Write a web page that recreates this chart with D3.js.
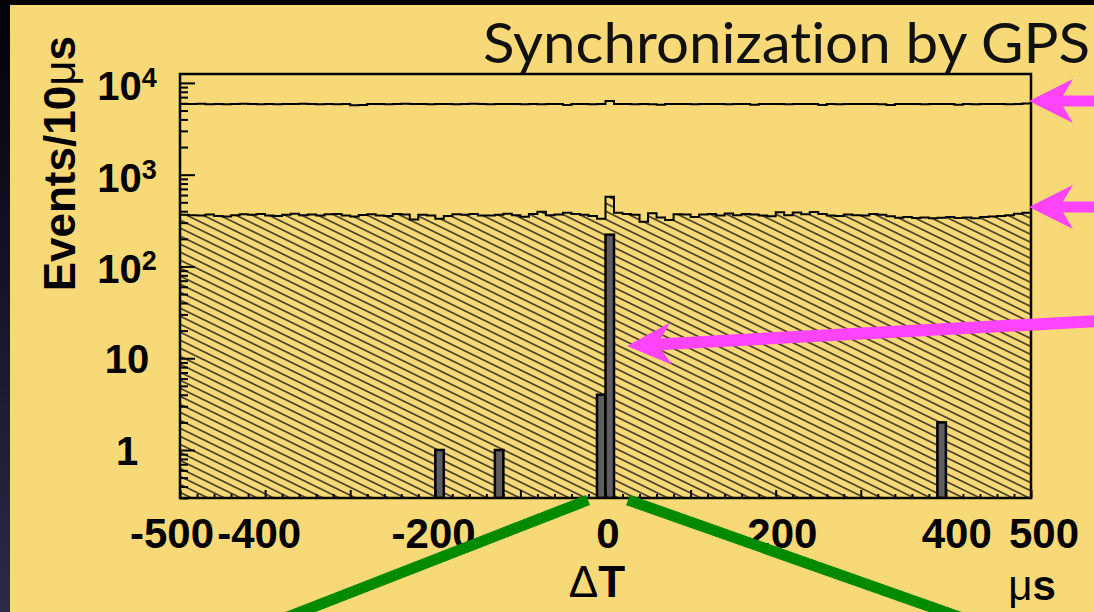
<!DOCTYPE html>
<html>
<head>
<meta charset="utf-8">
<script src="https://cdn.jsdelivr.net/npm/d3@7"></script>
<style>
  body { margin: 0; background: #000; }
  svg { display: block; }
</style>
</head>
<body>
<div class="chart"></div>
<script>
// bins of 10 us from -500 to 500
var binEdges = d3.range(-500, 500, 10);

// all coincidences (open histogram)
var allCounts = [
  5900, 5880, 5920, 5870, 5900, 5860, 5890, 5910, 5880, 5850,
  5890, 5870, 5900, 5880, 5920, 5890, 5870, 5900, 5860, 5880,
  5700, 5750, 5880, 5900, 5870, 5890, 5910, 5880, 5900, 5870,
  5890, 5880, 5860, 5900, 5920, 5880, 5870, 5900, 5890, 5880,
  5860, 5900, 5870, 5890, 5880, 5760, 5900, 5880, 5870, 5900,
  6350, 5880, 5890, 5860, 5900, 5870, 5780, 5890, 5900, 5880,
  5870, 5900, 5880, 5890, 5860, 5900, 5880, 5770, 5890, 5900,
  5880, 5870, 5900, 5890, 5880, 5760, 5900, 5870, 5890, 5880,
  5900, 5880, 5870, 5760, 5890, 5900, 5880, 5870, 5900, 5890,
  5880, 5780, 5900, 5870, 5890, 5880, 5900, 5870, 5880, 5950
];

// after cuts (hatched histogram)
var cutCounts = [
  365, 362, 360, 368, 355, 350, 362, 370, 365, 372,
  360, 355, 365, 375, 362, 368, 358, 370, 372, 360,
  350, 364, 370, 360, 355, 372, 368, 325, 365, 360,
  330, 355, 370, 365, 372, 360, 358, 366, 375, 362,
  348, 372, 395, 362, 368, 385, 372, 366, 355, 330,
  575, 385, 372, 366, 307, 380, 342, 320, 370, 368,
  345, 368, 372, 360, 378, 362, 374, 368, 360, 352,
  390, 362, 388, 370, 392, 372, 360, 355, 368, 362,
  358, 372, 365, 352, 340, 345, 338, 342, 336, 340,
  345, 338, 342, 336, 345, 350, 355, 362, 375, 385
];

// signal candidates (grey bars)
var signalBins = [-200, -130, -10, 0, 390];
var signalCounts = [1, 1, 4, 222, 2];

var yMajor = [1, 10, 100, 1000, 10000];
var yLabelBase = ["1", "10", "10", "10", "10"];
var yLabelExp = ["", "", "2", "3", "4"];
var xTickLabels = [-500, -400, -200, 0, 200, 400, 500];

var w = 1094, h = 612;
var plotL = 180, plotR = 1031, plotT = 74, plotB = 498;

var x = d3.scaleLinear().domain([-500, 500]).range([plotL, plotR]);
var y = d3.scaleLog().domain([0.3, 1.25e4]).range([plotB, plotT]);
// tick labels in the original sit slightly spread out
var xLab = d3.scaleLinear().domain([-500, 500]).range([172, 1044]);

var svg = d3.select(".chart").append("svg")
  .attr("width", w).attr("height", h);

var defs = svg.append("defs");
var grad = defs.append("linearGradient").attr("id", "edge")
  .attr("x1", 0).attr("y1", 0).attr("x2", 0).attr("y2", 1);
grad.append("stop").attr("offset", "0%").attr("stop-color", "#020208");
grad.append("stop").attr("offset", "100%").attr("stop-color", "#2a2a48");

var hatch = defs.append("pattern").attr("id", "hatch")
  .attr("patternUnits", "userSpaceOnUse")
  .attr("width", 12).attr("height", 7.2)
  .attr("patternTransform", "rotate(26)");
hatch.append("line")
  .attr("x1", 0).attr("y1", 3.6).attr("x2", 12).attr("y2", 3.6)
  .attr("stroke", "#111").attr("stroke-width", 1.3);

defs.append("clipPath").attr("id", "plot")
  .append("rect").attr("x", plotL).attr("y", plotT)
  .attr("width", plotR - plotL).attr("height", plotB - plotT);

// slide background
svg.append("rect").attr("width", w).attr("height", h).attr("fill", "#f8d977");
svg.append("rect").attr("width", w).attr("height", 5).attr("fill", "#000");
svg.append("rect").attr("width", 10).attr("height", h).attr("fill", "url(#edge)");

// title
svg.append("text")
  .attr("x", 483).attr("y", 63)
  .attr("textLength", 607).attr("lengthAdjust", "spacingAndGlyphs")
  .style("font-family", "Lato, 'Open Sans', sans-serif")
  .style("font-size", "56px")
  .style("font-variant-ligatures", "none")
  .attr("fill", "#111")
  .text("Synchronization by GPS");

var plot = svg.append("g").attr("clip-path", "url(#plot)");

function stepPoints(counts) {
  var pts = binEdges.map(function(e, i) { return [e, counts[i]]; });
  pts.push([500, counts[counts.length - 1]]);
  return pts;
}

var area = d3.area()
  .curve(d3.curveStepAfter)
  .x(function(d) { return x(d[0]); })
  .y0(plotB)
  .y1(function(d) { return y(d[1]); });

var line = d3.line()
  .curve(d3.curveStepAfter)
  .x(function(d) { return x(d[0]); })
  .y(function(d) { return y(d[1]); });

// hatched histogram
plot.append("path")
  .datum(stepPoints(cutCounts))
  .attr("d", area)
  .attr("fill", "url(#hatch)");
plot.append("path")
  .datum(stepPoints(cutCounts))
  .attr("d", line)
  .attr("fill", "none")
  .attr("stroke", "#000").attr("stroke-width", 2);

// open histogram
plot.append("path")
  .datum(stepPoints(allCounts))
  .attr("d", line)
  .attr("fill", "none")
  .attr("stroke", "#000").attr("stroke-width", 2);

// grey signal bars
plot.selectAll("rect.sig")
  .data(signalBins)
  .enter()
  .append("rect")
  .attr("class", "sig")
  .attr("x", function(d) { return x(d); })
  .attr("width", function(d) { return x(d + 10) - x(d); })
  .attr("y", function(d, i) { return y(signalCounts[i]); })
  .attr("height", function(d, i) { return plotB - y(signalCounts[i]); })
  .attr("fill", "#5e5e5e")
  .attr("stroke", "#000").attr("stroke-width", 2.5);

// y axis ticks (inward)
var yMinor = [];
[0.1, 1, 10, 100, 1000].forEach(function(dec) {
  d3.range(2, 10).forEach(function(k) {
    var v = dec * k;
    if (v >= 0.3 && v <= 1.25e4) yMinor.push(v);
  });
});

var yAxisMajor = svg.append("g")
  .attr("transform", "translate(" + plotL + ",0)")
  .call(d3.axisRight(y).tickValues(yMajor).tickSize(15).tickSizeOuter(0).tickFormat(""));
var yAxisMinor = svg.append("g")
  .attr("transform", "translate(" + plotL + ",0)")
  .call(d3.axisRight(y).tickValues(yMinor).tickSize(8).tickSizeOuter(0).tickFormat(""));

// x axis ticks (inward)
var xMajor = d3.range(-500, 501, 100);
var xMinor = d3.range(-500, 501, 20).filter(function(v) { return v % 100 !== 0; });
var xAxisMajor = svg.append("g")
  .attr("transform", "translate(0," + plotB + ")")
  .call(d3.axisTop(x).tickValues(xMajor).tickSize(8).tickSizeOuter(0).tickFormat(""));
var xAxisMinor = svg.append("g")
  .attr("transform", "translate(0," + plotB + ")")
  .call(d3.axisTop(x).tickValues(xMinor).tickSize(4).tickSizeOuter(0).tickFormat(""));

[yAxisMajor, yAxisMinor, xAxisMajor, xAxisMinor].forEach(function(g) {
  g.select(".domain").remove();
  g.selectAll("line").attr("stroke", "#000").attr("stroke-width", 2);
});

// frame
svg.append("rect")
  .attr("x", plotL).attr("y", plotT)
  .attr("width", plotR - plotL).attr("height", plotB - plotT)
  .attr("fill", "none").attr("stroke", "#000").attr("stroke-width", 2.5);

var labelFont = "'Liberation Sans', Arial, Helvetica, sans-serif";

// y labels
var yLabels = svg.selectAll("text.ylab")
  .data(yMajor)
  .enter()
  .append("text")
  .attr("class", "ylab")
  .attr("x", 127)
  .attr("y", function(d, i) { return y(d) + (yLabelExp[i] ? 17 : 15); })
  .attr("text-anchor", "middle")
  .style("font-family", labelFont)
  .style("font-weight", "bold")
  .style("font-size", "40px")
  .attr("fill", "#000");
yLabels.append("tspan").text(function(d, i) { return yLabelBase[i]; });
yLabels.append("tspan")
  .attr("dy", -13)
  .style("font-size", "27px")
  .text(function(d, i) { return yLabelExp[i]; });

// x labels
svg.selectAll("text.xlab")
  .data(xTickLabels)
  .enter()
  .append("text")
  .attr("class", "xlab")
  .attr("x", function(d) { return xLab(d); })
  .attr("y", 548)
  .attr("text-anchor", "middle")
  .style("font-family", labelFont)
  .style("font-weight", "bold")
  .style("font-size", "42px")
  .attr("fill", "#000")
  .text(function(d) { return d; });

// axis titles
svg.append("text")
  .attr("transform", "translate(75,36) rotate(-90)")
  .attr("text-anchor", "end")
  .style("font-family", labelFont)
  .style("font-weight", "bold")
  .style("font-size", "44px")
  .attr("fill", "#000")
  .html("Events/10<tspan style='font-weight:normal'>μ</tspan>s");

svg.append("text")
  .attr("x", 597).attr("y", 597)
  .attr("text-anchor", "middle")
  .style("font-family", labelFont)
  .style("font-weight", "bold")
  .style("font-size", "44px")
  .attr("fill", "#000")
  .html("<tspan style='font-weight:normal'>Δ</tspan>T");

svg.append("text")
  .attr("x", 1032).attr("y", 600)
  .attr("text-anchor", "middle")
  .style("font-family", labelFont)
  .style("font-weight", "bold")
  .style("font-size", "42px")
  .attr("fill", "#000")
  .html("<tspan style='font-weight:normal'>μ</tspan>s");

// magenta arrows
var magenta = "#ff44ff";
function arrow(tip, tail, headLen, headHalf, shaft) {
  var dx = tail[0] - tip[0], dy = tail[1] - tip[1];
  var len = Math.sqrt(dx * dx + dy * dy);
  var ux = dx / len, uy = dy / len, px = -uy, py = ux;
  var back = [tip[0] + ux * headLen, tip[1] + uy * headLen];
  var notch = [tip[0] + ux * headLen * 0.7, tip[1] + uy * headLen * 0.7];
  svg.append("line")
    .attr("x1", notch[0]).attr("y1", notch[1])
    .attr("x2", tail[0]).attr("y2", tail[1])
    .attr("stroke", magenta).attr("stroke-width", shaft);
  svg.append("path")
    .attr("d", "M" + tip + "L" + [back[0] + px * headHalf, back[1] + py * headHalf] +
      "L" + notch + "L" + [back[0] - px * headHalf, back[1] - py * headHalf] + "Z")
    .attr("fill", magenta);
}
arrow([1029, 101], [1100, 101], 44, 22, 11);
arrow([1029, 207], [1100, 207], 44, 22, 11);
arrow([627, 346], [1100, 321], 44, 21, 12);

// green zoom lines
svg.append("line")
  .attr("x1", 588).attr("y1", 500).attr("x2", 280).attr("y2", 620)
  .attr("stroke", "#008a00").attr("stroke-width", 11);
svg.append("line")
  .attr("x1", 628).attr("y1", 500).attr("x2", 968).attr("y2", 620)
  .attr("stroke", "#008a00").attr("stroke-width", 11);
</script>
</body>
</html>
